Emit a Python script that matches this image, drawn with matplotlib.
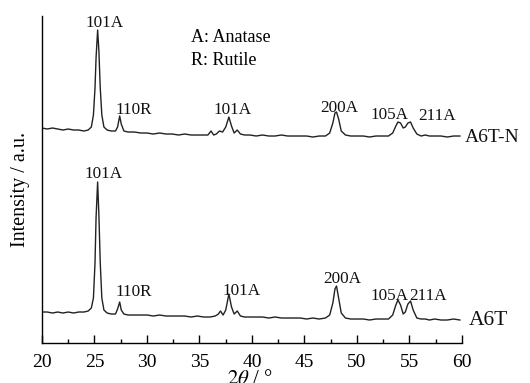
import matplotlib
matplotlib.use("Agg")
import matplotlib.pyplot as plt
from matplotlib.ticker import MultipleLocator

plt.rcParams['font.family'] = ['Liberation Serif', 'DejaVu Serif']
plt.rcParams['mathtext.fontset'] = 'stix'

# A6T-N pattern (offset trace), 2theta and intensity (a.u.)
two_theta_n = [20.0, 20.5, 21.0, 21.5, 22.0, 22.5, 23.0, 23.5, 24.0, 24.4, 24.7, 24.9, 25.05, 25.15,
               25.3, 25.42, 25.55, 25.7, 25.9, 26.2, 26.6, 27.0, 27.2, 27.4, 27.55, 27.8, 28.2,
               28.8, 29.4, 30.0, 30.6, 31.2, 31.8, 32.4, 33.0, 33.6, 34.2, 34.8, 35.4, 35.8,
               36.1, 36.35, 36.6, 36.9, 37.2, 37.5, 37.8, 38.05, 38.3, 38.6, 38.9, 39.3, 39.8,
               40.4, 41.0, 41.6, 42.2, 42.8, 43.4, 44.0, 44.6, 45.2, 45.8, 46.4, 47.0, 47.4,
               47.7, 47.9, 48.05, 48.25, 48.5, 48.9, 49.4, 50.0, 50.6, 51.2, 51.8, 52.4, 53.0,
               53.4, 53.7, 53.9, 54.15, 54.4, 54.6, 54.85, 55.1, 55.35, 55.7, 56.1, 56.5, 56.9,
               57.4, 58.0, 58.6, 59.2, 59.8]
intensity_n = [215, 214, 215, 214, 213, 214, 213, 213, 212, 213, 216, 228, 255, 285,
               313, 292, 255, 228, 216, 213, 212, 212, 216, 227, 219, 212, 211,
               211, 210, 210, 209, 210, 209, 209, 208, 209, 208, 208, 208, 208,
               212, 208, 209, 212, 211, 216, 226, 217, 210, 213, 209, 208, 208,
               207, 208, 207, 207, 208, 207, 207, 207, 207, 206, 207, 207, 210,
               220, 230, 231, 224, 212, 208, 207, 207, 207, 206, 207, 207, 207,
               210, 217, 221, 220, 215, 216, 220, 221, 215, 209, 207, 208, 207,
               207, 207, 206, 207, 207]

# A6T pattern
two_theta_t = [20.0, 20.5, 21.0, 21.5, 22.0, 22.5, 23.0, 23.5, 24.0, 24.4, 24.7, 24.9, 25.05, 25.15,
               25.3, 25.42, 25.55, 25.7, 25.9, 26.2, 26.6, 27.0, 27.2, 27.4, 27.55, 27.8, 28.2,
               28.8, 29.4, 30.0, 30.6, 31.2, 31.8, 32.4, 33.0, 33.6, 34.2, 34.8, 35.4, 36.0,
               36.5, 36.8, 37.0, 37.25, 37.5, 37.8, 38.05, 38.3, 38.6, 38.9, 39.3, 39.8,
               40.4, 41.0, 41.6, 42.2, 42.8, 43.4, 44.0, 44.6, 45.2, 45.8, 46.4, 47.0, 47.4,
               47.7, 47.9, 48.05, 48.25, 48.5, 48.9, 49.4, 50.0, 50.6, 51.2, 51.8, 52.4, 53.0,
               53.4, 53.7, 53.9, 54.15, 54.4, 54.6, 54.85, 55.1, 55.35, 55.7, 56.1, 56.5, 56.9,
               57.4, 58.0, 58.6, 59.2, 59.8]
intensity_t = [31, 31, 30, 31, 30, 31, 30, 31, 31, 32, 35, 45, 80, 125,
               161, 128, 80, 45, 33, 30, 29, 29, 34, 41, 33, 29, 28,
               28, 28, 28, 27, 28, 27, 27, 27, 27, 26, 27, 26, 26,
               27, 29, 32, 28, 33, 49, 36, 29, 32, 27, 26, 26,
               26, 26, 25, 26, 25, 25, 25, 25, 24, 25, 24, 25, 28,
               40, 54, 57, 45, 30, 25, 24, 24, 24, 23, 24, 24, 24,
               28, 38, 43, 38, 29, 31, 39, 42, 33, 25, 24, 24, 23,
               24, 23, 23, 24, 23]

peak_labels = ['101A', '110R', '101A', '200A', '105A', '211A']
label_x_n = [25.95, 28.7, 38.2, 48.3, 53.1, 57.6]
label_y_n = [316, 229, 229, 231, 224, 223]
label_x_t = [25.9, 28.7, 39.0, 48.6, 53.1, 56.8]
label_y_t = [165, 47, 48, 60, 43, 43]

fig = plt.figure(figsize=(5.3, 3.83), dpi=100)
ax = fig.add_axes([0.0792, 0.1044, 0.7925, 0.8538])

ax.plot(two_theta_n, intensity_n, color='#222222', lw=1.0)
ax.plot(two_theta_t, intensity_t, color='#222222', lw=1.0)

for lab, x, y in zip(peak_labels, label_x_n, label_y_n):
    ax.text(x, y, lab, ha='center', va='baseline', fontsize=12.3, color='#111111')
for lab, x, y in zip(peak_labels, label_x_t, label_y_t):
    ax.text(x, y, lab, ha='center', va='baseline', fontsize=12.3, color='#111111')

ax.text(60.3, 206, 'A6T-N', ha='left', va='center', fontsize=14, color='#111111', clip_on=False)
ax.text(60.6, 23, 'A6T', ha='left', va='center', fontsize=15.5, color='#111111', clip_on=False)

ax.text(0.355, 0.935, 'A: Anatase', transform=ax.transAxes, ha='left', va='center', fontsize=13)
ax.text(0.355, 0.865, 'R: Rutile', transform=ax.transAxes, ha='left', va='center', fontsize=13)

ax.set_xlim(20, 60)
ax.set_ylim(0, 327)
ax.xaxis.set_major_locator(MultipleLocator(5))
ax.xaxis.set_minor_locator(MultipleLocator(2.5))
ax.tick_params(axis='x', which='major', direction='in', length=6, width=1, labelsize=14, pad=8)
ax.tick_params(axis='x', which='minor', direction='in', length=3, width=1)
ax.set_yticks([])
ax.spines['top'].set_visible(False)
ax.spines['right'].set_visible(False)
for s in ['left', 'bottom']:
    ax.spines[s].set_linewidth(1.0)

ax.set_xlabel(r'$2\theta$ / °', fontsize=15)
ax.xaxis.set_label_coords(0.495, -0.082)
ax.xaxis.label.set_va('top')
ax.set_ylabel('Intensity / a.u.', fontsize=14.5)
ax.yaxis.set_label_coords(-0.052, 0.469)
ax.yaxis.label.set_va('center')

fig.savefig('out.png', dpi=100)
